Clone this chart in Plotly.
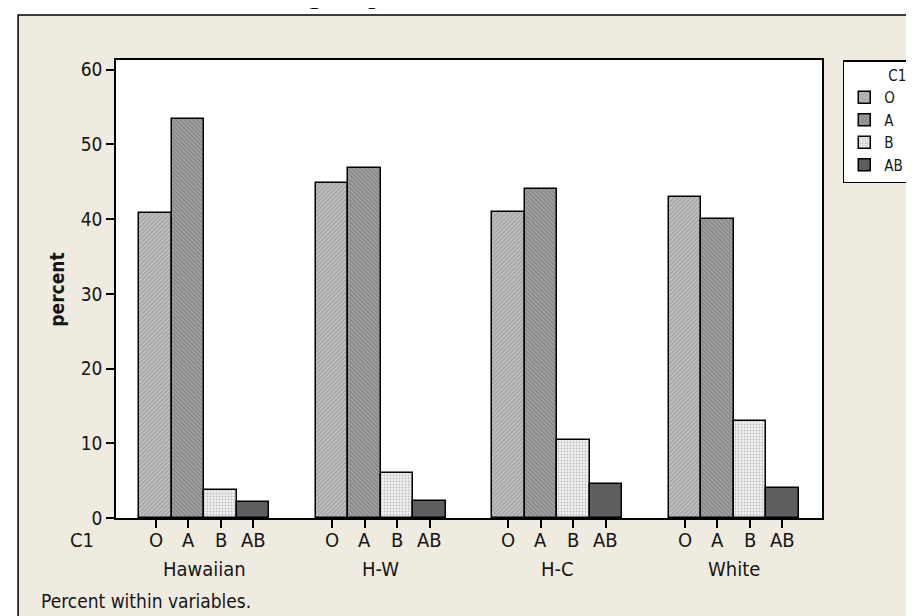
import plotly.graph_objects as go

# ---------------- data ----------------
groups = ["Hawaiian", "H-W", "H-C", "White"]
blood_types = ["O", "A", "B", "AB"]
pct_O = [40.8, 44.9, 41.0, 43.0]
pct_A = [53.4, 46.8, 44.1, 40.0]
pct_B = [3.8, 6.0, 10.4, 13.0]
pct_AB = [2.1, 2.3, 4.5, 4.0]
y_ticks = [0, 10, 20, 30, 40, 50, 60]
series = [pct_O, pct_A, pct_B, pct_AB]

# ---------------- layout constants ----------------
W, H = 914, 616
L, R, T, B = 108, 822, 52, 510
GROUP_STEP = 5.43  # distance between group starts in bar-width units
FONT = "DejaVu Sans Condensed, DejaVu Sans, sans-serif"
BG = "#EFEBE1"
TXT = "#161616"


def px(xp):
    return (xp - L) / (R - L)


def py(yp):
    return (B - yp) / (B - T)


styles = [
    dict(color="#B4B4B4", pattern=dict(shape="/", fgcolor="#7A7A7A", bgcolor="#C4C4C4", size=3, solidity=0.45)),
    dict(color="#8E8E8E", pattern=dict(shape="\\", fgcolor="#5E5E5E", bgcolor="#A4A4A4", size=3, solidity=0.45)),
    dict(color="#D8D8D8", pattern=dict(shape=".", fgcolor="#8A8A8A", bgcolor="#F0F0F0", size=3, solidity=0.3)),
    dict(color="#5E5E5E", pattern=dict(shape="")),
]

fig = go.Figure()
annotations = []
tick_vals = []
for i, (name, vals) in enumerate(zip(blood_types, series)):
    xs = [g * GROUP_STEP + i for g in range(len(groups))]
    tick_vals += xs
    st = styles[i]
    fig.add_trace(go.Bar(
        x=xs, y=vals, name=name, width=1.0,
        marker=dict(color=st["color"], pattern=st["pattern"],
                    line=dict(color="black", width=1.5)),
        hoverinfo="x+y",
    ))
    for xv in xs:
        annotations.append(dict(
            x=xv, xref="x", y=py(532), yref="paper", text=name, showarrow=False,
            xanchor="center", yanchor="middle",
            font=dict(family=FONT, size=20, color=TXT)))

last = (len(groups) - 1) * GROUP_STEP + 3
pad = 0.72

for g, name in enumerate(groups):
    annotations.append(dict(
        x=g * GROUP_STEP + 1.5, xref="x", y=py(561), yref="paper",
        text=name, showarrow=False, xanchor="center", yanchor="middle",
        font=dict(family=FONT, size=20, color=TXT)))
annotations += [
    dict(x=px(74), xref="paper", y=py(532), yref="paper", text="C1", showarrow=False,
         xanchor="center", yanchor="middle", font=dict(family=FONT, size=20, color=TXT)),
    dict(x=px(30), xref="paper", y=py(593), yref="paper", text="Percent within variables.",
         showarrow=False, xanchor="left", yanchor="middle",
         font=dict(family=FONT, size=19, color=TXT)),
    dict(x=px(48), xref="paper", y=py(282), yref="paper", text="<b>percent</b>", textangle=-90,
         showarrow=False, xanchor="center", yanchor="middle",
         font=dict(family=FONT, size=19, color=TXT)),
    # cut-off title descenders at the very top of the image
    dict(x=px(309), xref="paper", y=py(-34), yref="paper", text="g", showarrow=False,
         xanchor="center", yanchor="top",
         font=dict(family="Liberation Serif, serif", size=30, color="black")),
    dict(x=px(370), xref="paper", y=py(-34), yref="paper", text="p", showarrow=False,
         xanchor="center", yanchor="top",
         font=dict(family="Liberation Serif, serif", size=30, color="black")),
]

shapes = [
    dict(type="rect", xref="paper", yref="paper", x0=px(9), x1=px(930), y0=py(640), y1=py(7),
         fillcolor=BG, line=dict(color="black", width=1.5), layer="below"),
    dict(type="rect", xref="paper", yref="paper", x0=0, x1=1, y0=0, y1=1,
         fillcolor="white", line=dict(width=0), layer="below"),
]

fig.update_layout(
    width=W, height=H, autosize=False,
    margin=dict(l=L, r=W - R, t=T, b=H - B, pad=0),
    paper_bgcolor="white", plot_bgcolor="rgba(0,0,0,0)",
    barmode="overlay", bargap=0,
    font=dict(family=FONT, size=19, color=TXT),
    showlegend=True,
    legend=dict(
        x=px(843), y=py(52), xref="paper", yref="paper", xanchor="left", yanchor="top",
        bgcolor="white", bordercolor="black", borderwidth=1.5,
        font=dict(family=FONT, size=15, color=TXT),
        title=dict(text="C1", side="top right", font=dict(family=FONT, size=15)),
        tracegroupgap=0, itemwidth=30,
    ),
    annotations=annotations,
    shapes=shapes,
    xaxis=dict(
        range=[-0.5 - pad, last + 0.5 + pad], tickmode="array",
        tickvals=tick_vals, showticklabels=False,
        ticks="outside", ticklen=8, tickwidth=1.5, tickcolor="black",
        showline=True, linecolor="black", linewidth=1.5, mirror=True,
        showgrid=False, zeroline=False, fixedrange=True,
    ),
    yaxis=dict(
        range=[0, 61.3], tickmode="array", tickvals=y_ticks,
        ticks="outside", ticklen=8, tickwidth=1.5, tickcolor="black",
        showline=True, linecolor="black", linewidth=1.5, mirror=True,
        showgrid=False, zeroline=False, fixedrange=True,
        tickfont=dict(family=FONT, size=19, color=TXT),
    ),
)

fig.write_html("out.html")
